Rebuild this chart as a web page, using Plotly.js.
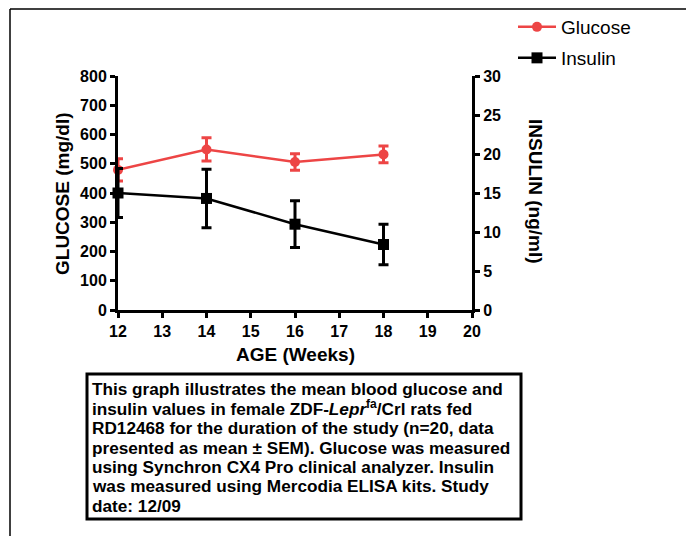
<!DOCTYPE html>
<html><head><meta charset="utf-8">
<script src="https://cdn.plot.ly/plotly-3.0.1.min.js"></script>
<style>html,body{margin:0;padding:0;background:#fff;}#chart{width:686px;height:536px;}</style>
</head><body><div id="chart"></div>
<script>
const ageWeeks = [12, 14, 16, 18];
const glucoseMean = [479, 549, 506, 532];
const glucoseSEM = [38, 40, 28, 29];
const insulinMean = [15.0, 14.3, 11.0, 8.4];
const insulinSEM = [3.15, 3.75, 3.0, 2.6];
const xTicks = [12, 13, 14, 15, 16, 17, 18, 19, 20];
const captionLines = [
  'This graph illustrates the mean blood glucose and',
  'insulin values in female ZDF-<i>Lepr</i><sup>fa</sup>/Crl rats fed',
  'RD12468 for the duration of the study (n=20, data',
  'presented as mean ± SEM). Glucose was measured',
  'using Synchron CX4 Pro clinical analyzer. Insulin',
  'was measured using Mercodia ELISA kits. Study',
  'date: 12/09'
];

const red = '#ED4545';
const W = 686, H = 536, L = 118, R = 472, T = 76, B = 310;
const px = x => (x - L) / (R - L);
const py = y => (B - y) / (B - T);
const FAM = 'Liberation Sans, Arial, sans-serif';

const traces = [
  {x: ageWeeks, y: glucoseMean, name: 'Glucose', type: 'scatter', mode: 'lines+markers',
   legend: 'legend',
   line: {color: red, width: 2.5}, marker: {symbol: 'circle', size: 10, color: red},
   error_y: {type: 'data', array: glucoseSEM, visible: true, color: red, thickness: 3, width: 5},
   cliponaxis: false},
  {x: ageWeeks, y: insulinMean, name: 'Insulin', type: 'scatter', mode: 'lines+markers', yaxis: 'y2',
   legend: 'legend2',
   line: {color: '#000', width: 2.5}, marker: {symbol: 'square', size: 11, color: '#000'},
   error_y: {type: 'data', array: insulinSEM, visible: true, color: '#000', thickness: 3, width: 5},
   cliponaxis: false}
];

const tickFont = {family: FAM, size: 16, color: '#000', weight: 'bold'};
const titleFont = {family: FAM, size: 19, color: '#000', weight: 'bold'};
const legFont = {family: FAM, size: 19, color: '#000'};

const axisCommon = {showline: true, linewidth: 3, linecolor: '#000', ticks: 'outside', ticklen: 5,
  tickwidth: 3, tickcolor: '#000', showgrid: false, zeroline: false, tickfont: tickFont,
  automargin: false};

const annotations = [
  {xref: 'paper', yref: 'paper', x: px(295), y: py(354), xanchor: 'center', yanchor: 'middle',
   showarrow: false, text: 'AGE (Weeks)', font: titleFont},
  {xref: 'paper', yref: 'paper', x: px(62), y: py(193), xanchor: 'center', yanchor: 'middle',
   showarrow: false, text: 'GLUCOSE (mg/dl)', font: titleFont, textangle: -90},
  {xref: 'paper', yref: 'paper', x: px(536), y: py(191), xanchor: 'center', yanchor: 'middle',
   showarrow: false, text: 'INSULIN (ng/ml)', font: titleFont, textangle: 90}
];
const baselines = [396, 416, 435, 455, 474, 493, 513];
captionLines.forEach((t, i) => {
  annotations.push({xref: 'paper', yref: 'paper', x: px(90), y: py(baselines[i] + 5),
    xanchor: 'left', yanchor: 'bottom', align: 'left', showarrow: false, text: t,
    font: {family: FAM, size: 17.2, color: '#000', weight: 'bold'}});
});

const layout = {
  width: W, height: H,
  margin: {l: L, r: W - R, t: T, b: H - B, autoexpand: false},
  paper_bgcolor: '#fff', plot_bgcolor: '#fff',
  showlegend: true,
  legend: {x: px(513), y: py(27), xanchor: 'left', yanchor: 'middle', font: legFont, itemwidth: 38,
           bgcolor: 'rgba(0,0,0,0)'},
  legend2: {x: px(513), y: py(58), xanchor: 'left', yanchor: 'middle', font: legFont, itemwidth: 38,
            bgcolor: 'rgba(0,0,0,0)'},
  xaxis: Object.assign({range: [12, 20], tickvals: xTicks, ticktext: xTicks.map(String)}, axisCommon),
  yaxis: Object.assign({range: [0, 800], dtick: 100}, axisCommon),
  yaxis2: Object.assign({range: [0, 30], dtick: 5, overlaying: 'y', side: 'right'}, axisCommon),
  shapes: [
    {type: 'line', xref: 'paper', yref: 'paper', x0: px(10), x1: px(10), y0: py(9), y1: py(540),
     line: {color: '#000', width: 1.5}},
    {type: 'line', xref: 'paper', yref: 'paper', x0: px(10), x1: px(690), y0: py(9), y1: py(9),
     line: {color: '#000', width: 1.5}},
    {type: 'rect', xref: 'paper', yref: 'paper', x0: px(87), x1: px(521), y0: py(374), y1: py(519),
     line: {color: '#000', width: 3}, fillcolor: 'rgba(0,0,0,0)'}
  ],
  annotations: annotations
};

Plotly.newPlot('chart', traces, layout, {displayModeBar: false, staticPlot: true});
</script></body></html>
